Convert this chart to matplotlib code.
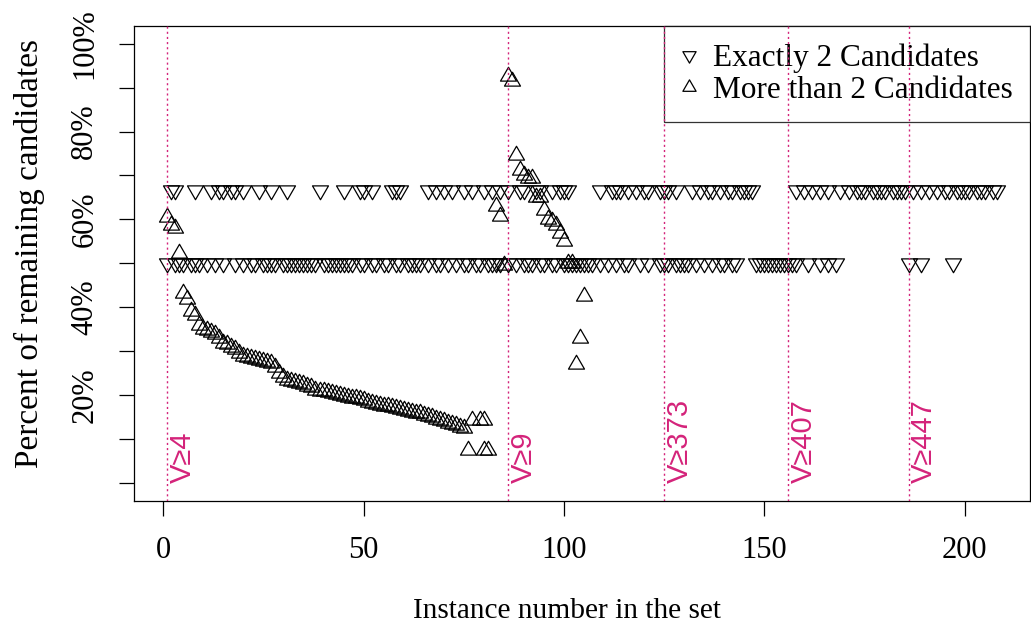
import matplotlib
matplotlib.use("Agg")
import matplotlib.pyplot as plt
from matplotlib.path import Path
from matplotlib.lines import Line2D
import numpy as np

plt.rcParams['font.family'] = ['Liberation Serif', 'DejaVu Serif']

# instances with exactly 2 candidates left (2/3 and 1/2 remaining)
two_x_67 = [2, 3, 8, 12, 14, 15, 17, 18, 20, 24, 27, 31, 39, 45, 49, 50, 52, 57, 58, 59,
            66, 68, 70, 72, 75, 77, 80, 82, 84, 86, 89, 90, 93, 94, 97, 99, 100, 101,
            109, 112, 113, 114, 116, 118, 120, 121, 124, 125, 126, 128, 132, 134, 136,
            137, 139, 141, 142, 144, 145, 146, 147, 158, 160, 162, 164, 166, 169, 171,
            173, 174, 175, 177, 178, 179, 180, 182, 183, 184, 185, 187, 189, 191, 193,
            195, 196, 198, 199, 200, 201, 203, 204, 205, 207, 208]
two_x_50 = [1, 3, 4, 5, 7, 8, 9, 11, 13, 15, 18, 20, 22, 23, 25, 26, 27, 28, 30, 31, 32,
            33, 34, 35, 36, 37, 38, 40, 41, 42, 43, 44, 45, 46, 47, 49, 50, 52, 53, 55,
            56, 58, 59, 61, 62, 63, 64, 66, 68, 69, 71, 73, 75, 76, 78, 79, 81, 82, 83,
            84, 86, 88, 90, 91, 92, 94, 95, 97, 98, 100, 101, 102, 103, 104, 105, 106,
            107, 109, 111, 113, 115, 116, 119, 121, 124, 125, 126, 128, 129, 130, 131,
            133, 135, 137, 139, 140, 142, 143, 148, 149, 150, 151, 152, 153, 154, 155,
            156, 157, 158, 161, 164, 166, 168, 186, 189, 197]

# instances with more than 2 candidates left
more_x = list(range(1, 76)) + [76, 77, 79, 80, 80, 81] + list(range(83, 106))
more_y = [0.605, 0.588, 0.58, 0.524, 0.433, 0.42, 0.393, 0.383, 0.36, 0.352,
          0.348, 0.345, 0.34, 0.33, 0.32, 0.316, 0.31, 0.306, 0.297, 0.29,
          0.287, 0.285, 0.283, 0.28, 0.278, 0.276, 0.273, 0.265, 0.252, 0.242,
          0.236, 0.233, 0.231, 0.229, 0.226, 0.222, 0.218, 0.213, 0.211, 0.209,
          0.207, 0.205, 0.203, 0.201, 0.199, 0.197, 0.195, 0.193, 0.191, 0.189,
          0.186, 0.183, 0.181, 0.179, 0.177, 0.175, 0.173, 0.171, 0.169, 0.167,
          0.165, 0.163, 0.161, 0.159, 0.156, 0.153, 0.15, 0.147, 0.144, 0.141,
          0.138, 0.135, 0.132, 0.128, 0.125,
          0.077, 0.145, 0.143, 0.143, 0.077, 0.077,
          0.63, 0.607, 0.497, 0.926, 0.914, 0.747, 0.713, 0.702, 0.694, 0.694,
          0.652, 0.65, 0.622, 0.601, 0.596, 0.588, 0.569, 0.55, 0.5, 0.5,
          0.272, 0.33, 0.425]

vline_x = [1, 86, 125, 156, 186]
vline_labels = ['V≥4', 'V≥9', 'V≥373', 'V≥407', 'V≥447']

ytick_vals = np.arange(0, 1.01, 0.1)
ytick_labels = ['', '', '20%', '', '40%', '', '60%', '', '80%', '', '100%']
xtick_vals = [0, 50, 100, 150, 200]

pink = '#d4237a'

# R style equilateral triangles (pch 2 / pch 6)
tri_up = Path([(0, 1.155), (1, -0.577), (-1, -0.577), (0, 1.155)], closed=True)
tri_down = Path([(0, -1.155), (1, 0.577), (-1, 0.577), (0, -1.155)], closed=True)

fig = plt.figure(figsize=(10.31, 6.30), dpi=100)
ax = fig.add_axes([0.130, 0.2048, 0.869, 0.754])

ms = 13.3
ax.plot(two_x_67, [2 / 3] * len(two_x_67), linestyle='none', marker=tri_down,
        markersize=ms, markerfacecolor='none', markeredgecolor='black', markeredgewidth=0.9)
ax.plot(two_x_50, [0.5] * len(two_x_50), linestyle='none', marker=tri_down,
        markersize=ms, markerfacecolor='none', markeredgecolor='black', markeredgewidth=0.9)
ax.plot(more_x, more_y, linestyle='none', marker=tri_up,
        markersize=ms, markerfacecolor='none', markeredgecolor='black', markeredgewidth=0.9)

for xv, lab in zip(vline_x, vline_labels):
    ax.axvline(xv, color=pink, linewidth=1.0, linestyle=(0, (1.5, 2.2)), zorder=6)
    ax.text(xv + 0.4, 0.0, lab, rotation=90, ha='left', va='bottom', color=pink,
            fontsize=21, family=['Liberation Sans', 'DejaVu Sans'], zorder=6)

xmin, xmax = 1, 208
ax.set_xlim(xmin - 0.04 * (xmax - xmin), xmax + 0.04 * (xmax - xmin))
ax.set_ylim(-0.04, 1.04)

ax.set_xticks(xtick_vals)
ax.set_xticklabels([str(v) for v in xtick_vals])
ax.set_yticks(ytick_vals)
ax.set_yticklabels(ytick_labels)
ax.tick_params(direction='out', length=11, width=0.9, labelsize=22, pad=14)
ax.tick_params(axis='y', labelrotation=90)
for lab in ax.get_yticklabels():
    lab.set_va('center')

for sp in ax.spines.values():
    sp.set_linewidth(0.9)

ax.set_xlabel('Instance number in the set', fontsize=21.2)
ax.set_ylabel('Percent of remaining candidates', fontsize=24)
ax.xaxis.set_label_coords(0.483, -0.204)
ax.yaxis.set_label_coords(-0.099, 0.522)

handles = [
    Line2D([], [], linestyle='none', marker=tri_down, markersize=11,
           markerfacecolor='none', markeredgecolor='black', markeredgewidth=0.9),
    Line2D([], [], linestyle='none', marker=tri_up, markersize=11,
           markerfacecolor='none', markeredgecolor='black', markeredgewidth=0.9),
]
leg = ax.legend(handles, ['Exactly 2 Candidates', 'More than 2 Candidates'],
                loc='upper right', bbox_to_anchor=(1, 1), borderaxespad=0,
                fontsize=22.5, frameon=True, fancybox=False, edgecolor='black',
                labelspacing=0.1, handlelength=0.5, handletextpad=0.52,
                borderpad=0.55)
leg.get_frame().set_linewidth(0.9)
leg.set_zorder(5)

plt.savefig('out.png', dpi=100)
